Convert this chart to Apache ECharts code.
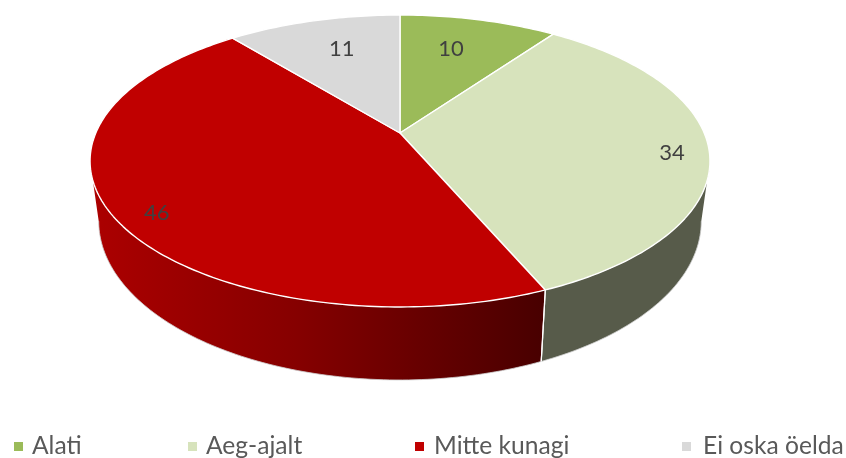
<!DOCTYPE html>
<html>
<head>
<meta charset="utf-8">
<style>html,body{margin:0;padding:0;background:#fff}#c{width:846px;height:458px}</style>
<script src="https://cdn.jsdelivr.net/npm/echarts@6/dist/echarts.min.js"></script>
</head>
<body>
<div id="c"></div>
<script>
var categories = ['Alati', 'Aeg-ajalt', 'Mitte kunagi', 'Ei oska öelda'];
var values = [10, 34, 46, 11];
var topColors = ['#9bbb59', '#d7e3bc', '#c00000', '#d9d9d9'];
var wallColors = ['#4e5e2d', '#575b4a', null, '#6d6d6d'];
var labelNudges = [[-14, 9], [26, 7], [-17, 17], [13, 8]];
var legendLefts = [14, 188, 415, 682];
var legendLeadPadding = [4, 4, 5, 7];

// Perspective disc geometry
var view = { cx: 400, cy: 133, A: 304.2, B: 140.6, k: 0.1918, depth0: 57.7, depthSlope: 0.088, depthScale: 0.972 };
var total = values.reduce(function (a, b) { return a + b; }, 0);
var tangent = Math.acos(view.k) * 180 / Math.PI; // rim angle past the side where the wall turns out of sight

function project(deg, r, lower) {
  var t = deg * Math.PI / 180;
  var p = r * Math.sin(t), q = -r * Math.cos(t);
  var w = 1 - view.k * q;
  var x = view.cx + view.A * p / w;
  var y = view.cy + view.B * q / w;
  if (lower) {
    x = view.cx + (x - view.cx) * view.depthScale;
    y = y + view.depth0 + view.depthSlope * (y - view.cy);
  }
  return [x, y];
}
function arc(a, b, lower) {
  var pts = [], n = Math.max(2, Math.ceil(Math.abs(b - a)));
  for (var i = 0; i <= n; i++) pts.push(project(a + (b - a) * i / n, 1, lower));
  return pts;
}

function renderItem(params, api) {
  var i = params.seriesIndex;
  var a = api.value(0) / total * 360, b = api.value(1) / total * 360;
  var children = [];
  var wa = Math.max(a, 90 + (90 - tangent)), wb = Math.min(b, 270 - (90 - tangent));
  if (wb > wa) {
    var fill = wallColors[i] || {
      type: 'linear', global: true, x: 90, y: 0, x2: 545, y2: 0,
      colorStops: [{ offset: 0, color: '#ac0000' }, { offset: 0.45, color: '#860000' }, { offset: 1, color: '#480000' }]
    };
    children.push({
      type: 'polygon', z2: 1,
      shape: { points: arc(wa, wb, false).concat(arc(wa, wb, true).reverse()) },
      style: { fill: fill }
    });
    children.push({
      type: 'polyline', z2: 2,
      shape: { points: arc(wa, wb, true) },
      style: { stroke: '#cfcfcf', lineWidth: 0.8, fill: null }
    });
    [a, b].forEach(function (d) {
      if (d > wa - 1e-6 && d < wb + 1e-6) {
        children.push({
          type: 'polyline', z2: 2,
          shape: { points: [project(d, 1, false), project(d, 1, true)] },
          style: { stroke: '#fff', lineWidth: 1.2, fill: null }
        });
      }
    });
  }
  children.push({
    type: 'polygon', z2: 3,
    shape: { points: [[view.cx, view.cy]].concat(arc(a, b, false)) },
    style: { fill: topColors[i], stroke: '#fff', lineWidth: 1.4, lineJoin: 'round' }
  });
  var m = project((a + b) / 2, 0.8, false);
  children.push({
    type: 'text', z2: 5,
    x: m[0] + labelNudges[i][0], y: m[1] + labelNudges[i][1],
    style: {
      text: String(api.value(2)), fill: '#404040',
      font: '22px Lato', align: 'center', verticalAlign: 'middle'
    }
  });
  return { type: 'group', children: children };
}

var cum = 0;
var series = categories.map(function (name, i) {
  var start = cum; cum += values[i];
  return {
    type: 'custom', name: name, coordinateSystem: 'none', silent: true, animation: false,
    itemStyle: { color: topColors[i] },
    data: [[start, cum, values[i]]],
    renderItem: renderItem
  };
});

var chart = echarts.init(document.getElementById('c'), null, { renderer: 'canvas' });
chart.setOption({
  animation: false,
  backgroundColor: '#fff',
  legend: categories.map(function (n, i) {
    return {
      data: [{ name: n, icon: 'rect' }],
      left: legendLefts[i], top: 434, padding: 0,
      itemWidth: 9, itemHeight: 9, selectedMode: false,
      textStyle: { fontFamily: 'Lato', fontSize: 24.6, color: '#595959', padding: [0, 0, 0, legendLeadPadding[i]] }
    };
  }),
  series: series
});
</script>
</body>
</html>
